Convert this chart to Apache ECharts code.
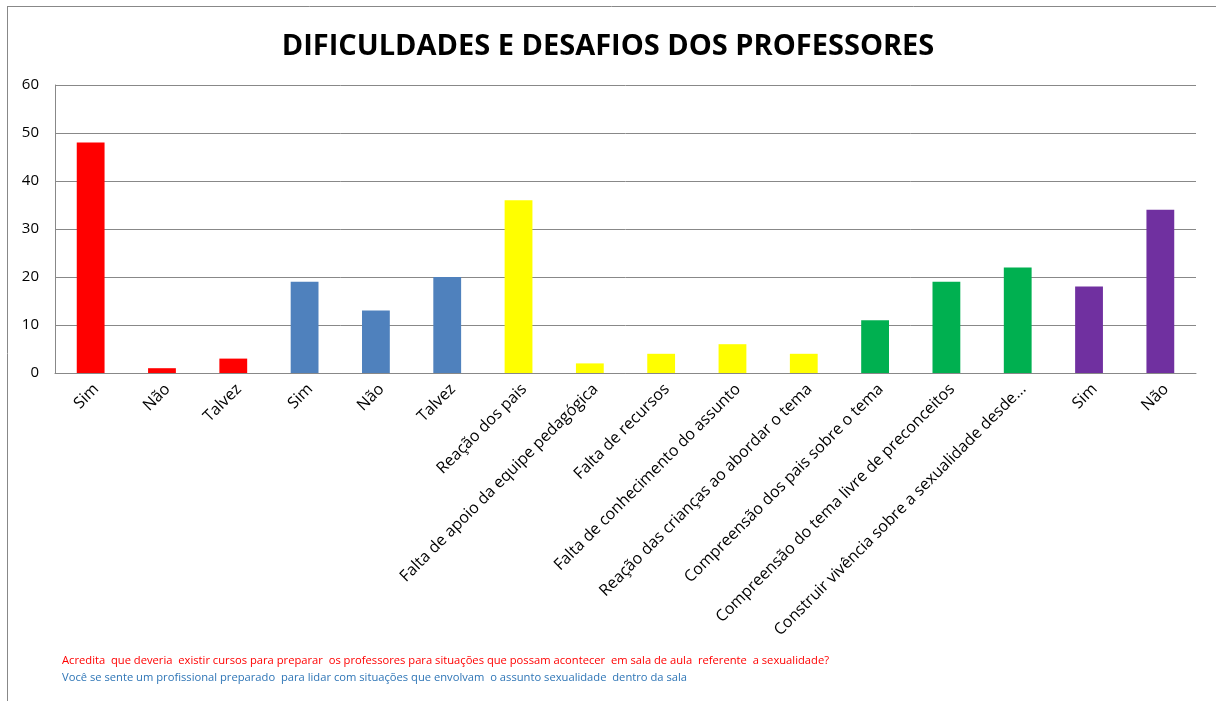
<!DOCTYPE html>
<html>
<head>
<meta charset="utf-8">
<script src="https://cdn.jsdelivr.net/npm/echarts@6/dist/echarts.min.js"></script>
<style>html,body{margin:0;padding:0;background:#fff;}#c{width:1216px;height:701px;}</style>
</head>
<body>
<div id="c"></div>
<script>
const categories = ["Sim","Não","Talvez","Sim","Não","Talvez","Reação dos pais","Falta de apoio da equipe pedagógica","Falta de recursos","Falta de conhecimento do assunto","Reação das crianças ao abordar o tema","Compreensão dos pais sobre o tema","Compreensão do tema livre de preconceitos","Construir vivência sobre a sexualidade desde...","Sim","Não"];
const values = [48,1,3,19,13,20,36,2,4,6,4,11,19,22,18,34];
const groupColors = ["#FF0000","#FF0000","#FF0000","#4F81BD","#4F81BD","#4F81BD","#FFFF00","#FFFF00","#FFFF00","#FFFF00","#FFFF00","#00B050","#00B050","#00B050","#7030A0","#7030A0"];
const yTicks = [0,10,20,30,40,50,60];
const titleText = "DIFICULDADES E DESAFIOS DOS PROFESSORES";
const note1 = "Acredita  que deveria  existir cursos para preparar  os professores para situações que possam acontecer  em sala de aula  referente  a sexualidade?";
const note2 = "Você se sente um profissional preparado  para lidar com situações que envolvam  o assunto sexualidade  dentro da sala";

const font = "'Open Sans', 'Liberation Sans', sans-serif";
const chart = echarts.init(document.getElementById('c'));
chart.setOption({
  animation: false,
  title: {
    text: titleText, left: 'center', top: 27,
    textStyle: {fontFamily: font, fontWeight: 'bold', fontSize: 29, color: '#000'}
  },
  grid: {left: 55, right: 20, top: 85, bottom: 328, containLabel: false},
  xAxis: {
    type: 'category', data: categories,
    axisLine: {lineStyle: {color: '#888', width: 1}},
    axisTick: {show: false},
    axisLabel: {rotate: 45, interval: 0, fontFamily: font, fontSize: 16, color: '#000', margin: 8, verticalAlign: 'top', align: 'right'}
  },
  yAxis: {
    type: 'value', min: yTicks[0], max: yTicks[yTicks.length-1], interval: 10,
    axisLine: {show: true, lineStyle: {color: '#888'}},
    axisTick: {show: false},
    splitLine: {lineStyle: {color: '#888', width: 1}},
    axisLabel: {fontFamily: font, fontSize: 15, color: '#000', margin: 16}
  },
  series: [{
    type: 'bar', barWidth: '39%',
    data: values.map((v, i) => ({value: v, itemStyle: {color: groupColors[i]}}))
  }],
  graphic: [
    {type: 'line', shape: {x1: 7, y1: 6.5, x2: 1216, y2: 6.5}, style: {stroke: '#888', lineWidth: 1}},
    {type: 'line', shape: {x1: 7.5, y1: 6, x2: 7.5, y2: 701}, style: {stroke: '#888', lineWidth: 1}},
    {type: 'text', left: 62, top: 655, style: {text: note1, fill: '#FF0000', fontFamily: font, fontSize: 11.2}},
    {type: 'text', left: 62, top: 672, style: {text: note2, fill: '#2E75B6', fontFamily: font, fontSize: 11.2}}
  ]
});
</script>
</body>
</html>
